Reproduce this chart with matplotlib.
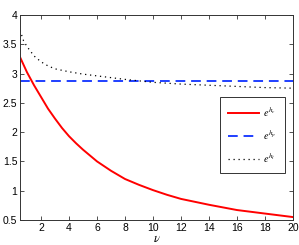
import matplotlib
matplotlib.use('Agg')
import matplotlib.pyplot as plt

# --- data ---
nu_c = [0.5, 1, 1.5, 2, 2.5, 3, 3.5, 4, 4.5, 5, 5.5, 6, 7, 8, 9, 10, 11, 12, 13, 14, 15, 16, 17, 18, 19, 20]
e_hc = [3.28, 3.02, 2.80, 2.60, 2.40, 2.23, 2.07, 1.93, 1.81, 1.70, 1.60, 1.50, 1.34, 1.20, 1.10, 1.01,
        0.93, 0.86, 0.81, 0.76, 0.715, 0.67, 0.64, 0.61, 0.58, 0.55]

nu_p = [0.5, 20]
e_hp = [2.87, 2.87]

nu_l = [0.5, 0.75, 1, 1.5, 2, 2.5, 3, 4, 5, 6, 8, 10, 12, 14, 16, 18, 20]
e_hl = [3.74, 3.56, 3.46, 3.30, 3.20, 3.13, 3.08, 3.03, 2.99, 2.96, 2.90, 2.85, 2.82, 2.80, 2.78, 2.76, 2.75]

X_TICKS = [2, 4, 6, 8, 10, 12, 14, 16, 18, 20]
Y_TICKS = [0.5, 1, 1.5, 2, 2.5, 3, 3.5, 4]
Y_TICK_LABELS = ['0.5', '1', '1.5', '2', '2.5', '3', '3.5', '4']

plt.rcParams['font.family'] = ['Liberation Sans', 'DejaVu Sans']
plt.rcParams['mathtext.fontset'] = 'stix'

fig = plt.figure(figsize=(2.99, 2.45), dpi=100)
ax = fig.add_axes([0.067, 0.102, 0.913, 0.837])

ax.plot(nu_c, e_hc, color='#ff0000', linewidth=1.4, label=r'$e^{h_c}$')
ax.plot(nu_p, e_hp, color='#1f3fff', linewidth=1.4, linestyle=(0, (5, 3)), label=r'$e^{h_p}$')
ax.plot(nu_l, e_hl, color='black', linewidth=0.9, linestyle=(0, (1, 3)), label=r'$e^{h_l}$')

ax.set_xlim(0.5, 20)
ax.set_ylim(0.5, 4)
ax.set_xticks(X_TICKS)
ax.set_yticks(Y_TICKS)
ax.set_yticklabels(Y_TICK_LABELS)
ax.tick_params(direction='in', top=True, right=True, labelsize=7.5, length=3,
               width=0.6, colors='#333333', labelcolor='black', pad=2)
for s in ax.spines.values():
    s.set_linewidth(0.7)
    s.set_color('#333333')

ax.set_xlabel(r'$\nu$', fontsize=9, labelpad=0)

leg = ax.legend(loc='upper right', bbox_to_anchor=(0.971, 0.6), borderaxespad=0,
                fontsize=7.5, handlelength=3.0, labelspacing=0.9, fancybox=False,
                framealpha=1, edgecolor='#333333', borderpad=0.8, handletextpad=0.4)
leg.get_frame().set_linewidth(0.7)

fig.savefig('out.png', dpi=100)
